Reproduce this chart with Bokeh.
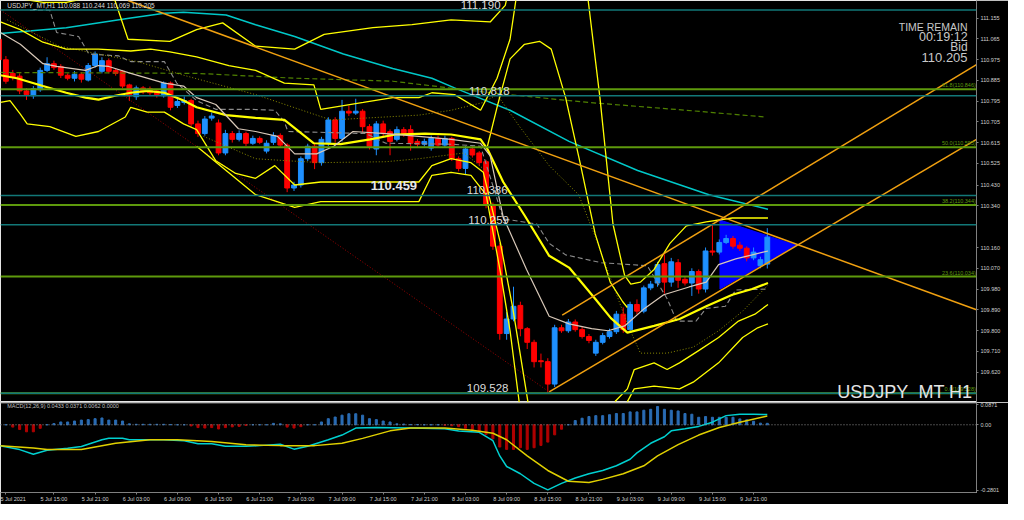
from bokeh.plotting import figure
from bokeh.models import ColumnDataSource, Range1d, FixedTicker, Span, Label
from bokeh.layouts import column
from bokeh.embed import file_html
from bokeh.resources import INLINE

# ---------------- data ----------------
first_bar = -1
opens = [111.063, 110.974, 110.915, 110.903, 110.839, 110.818, 110.844, 110.928, 110.957, 110.945,
         110.907, 110.894, 110.911, 110.886, 110.949, 110.924, 110.970, 110.928, 110.924, 110.865,
         110.814, 110.852, 110.848, 110.839, 110.818, 110.873, 110.776, 110.789, 110.797, 110.696,
         110.654, 110.721, 110.700, 110.570, 110.654, 110.629, 110.654, 110.612, 110.633, 110.578,
         110.616, 110.646, 110.604, 110.418, 110.431, 110.545, 110.599, 110.528, 110.612, 110.713,
         110.633, 110.751, 110.743, 110.751, 110.684, 110.587, 110.696, 110.662, 110.629, 110.671,
         110.671, 110.620, 110.608, 110.591, 110.633, 110.604, 110.633, 110.545, 110.503, 110.587,
         110.570, 110.532, 110.347, 110.166, 109.787, 109.850, 109.909, 109.808, 109.749, 109.669,
         109.665, 109.568, 109.812, 109.799, 109.837, 109.804, 109.774, 109.702, 109.749, 109.774,
         109.795, 109.871, 109.804, 109.913, 109.884, 109.985, 110.006, 110.090, 110.010, 110.094,
         110.022, 110.006, 110.056, 109.980, 110.145, 110.140, 110.182, 110.199, 110.170, 110.157,
         110.115, 110.081, 110.088]
closes = [110.974, 110.881, 110.898, 110.839, 110.823, 110.848, 110.928, 110.957, 110.940, 110.907,
          110.894, 110.911, 110.890, 110.949, 110.999, 110.970, 110.924, 110.915, 110.860, 110.818,
          110.852, 110.835, 110.831, 110.823, 110.873, 110.768, 110.793, 110.797, 110.696, 110.654,
          110.717, 110.730, 110.570, 110.654, 110.629, 110.654, 110.612, 110.633, 110.616, 110.612,
          110.646, 110.604, 110.418, 110.431, 110.545, 110.599, 110.528, 110.629, 110.713, 110.633,
          110.751, 110.743, 110.751, 110.684, 110.599, 110.696, 110.654, 110.620, 110.671, 110.654,
          110.612, 110.608, 110.620, 110.633, 110.604, 110.633, 110.545, 110.503, 110.587, 110.561,
          110.528, 110.347, 110.166, 109.787, 109.850, 109.905, 109.808, 109.749, 109.665, 109.665,
          109.568, 109.812, 109.799, 109.837, 109.804, 109.774, 109.757, 109.749, 109.778, 109.795,
          109.871, 109.804, 109.913, 109.884, 109.985, 110.001, 110.086, 110.010, 110.098, 110.018,
          110.006, 110.056, 109.980, 110.145, 110.140, 110.182, 110.199, 110.166, 110.157, 110.115,
          110.140, 110.107, 110.205]
highs = [111.080, 110.990, 110.930, 110.915, 110.850, 110.860, 110.940, 110.985, 110.970, 110.955,
         110.915, 110.925, 110.920, 110.960, 111.010, 110.985, 110.980, 110.935, 110.930, 110.870,
         110.862, 110.860, 110.858, 110.845, 110.880, 110.880, 110.810, 110.815, 110.805, 110.710,
         110.730, 110.745, 110.715, 110.670, 110.665, 110.668, 110.662, 110.645, 110.642, 110.625,
         110.660, 110.655, 110.612, 110.445, 110.555, 110.610, 110.610, 110.640, 110.725, 110.725,
         110.800, 110.775, 110.805, 110.760, 110.695, 110.708, 110.710, 110.672, 110.685, 110.682,
         110.690, 110.630, 110.632, 110.645, 110.645, 110.645, 110.640, 110.555, 110.600, 110.600,
         110.578, 110.540, 110.355, 110.180, 109.880, 109.990, 109.925, 109.815, 109.760, 109.700,
         109.680, 109.825, 109.825, 109.850, 109.848, 109.815, 109.785, 109.760, 109.790, 109.808,
         109.885, 109.900, 109.925, 109.935, 109.995, 110.015, 110.098, 110.130, 110.115, 110.110,
         110.035, 110.070, 110.065, 110.160, 110.259, 110.195, 110.215, 110.210, 110.185, 110.165,
         110.160, 110.120, 110.244]
lows = [110.965, 110.870, 110.885, 110.825, 110.800, 110.805, 110.835, 110.920, 110.930, 110.895,
        110.885, 110.880, 110.875, 110.880, 110.940, 110.915, 110.915, 110.905, 110.850, 110.795,
        110.800, 110.825, 110.820, 110.810, 110.810, 110.755, 110.765, 110.780, 110.685, 110.640,
        110.645, 110.710, 110.560, 110.560, 110.615, 110.620, 110.600, 110.605, 110.608, 110.568,
        110.605, 110.595, 110.400, 110.405, 110.420, 110.535, 110.500, 110.515, 110.600, 110.615,
        110.620, 110.730, 110.735, 110.660, 110.585, 110.560, 110.640, 110.560, 110.620, 110.640,
        110.580, 110.595, 110.598, 110.580, 110.595, 110.595, 110.535, 110.490, 110.475, 110.550,
        110.515, 110.330, 110.150, 109.760, 109.760, 109.840, 109.775, 109.720, 109.640, 109.640,
        109.528, 109.555, 109.790, 109.790, 109.795, 109.765, 109.745, 109.690, 109.740, 109.765,
        109.785, 109.790, 109.795, 109.870, 109.875, 109.975, 109.990, 109.960, 109.990, 109.985,
        109.995, 109.950, 109.960, 109.965, 110.125, 110.130, 110.175, 110.155, 110.145, 110.100,
        110.105, 110.070, 110.069]

price_ticks = [111.155, 111.065, 110.975, 110.885, 110.795, 110.705, 110.615, 110.525, 110.430,
               110.340, 110.160, 110.070, 109.980, 109.890, 109.800, 109.710, 109.620]
level_prices = [111.190, 110.818, 110.386, 110.259, 109.528]
level_texts = ["111.190", "110.818", "110.386", "110.259", "109.528"]
fib_prices = [110.846, 110.595, 110.344, 110.034, 109.528]
fib_texts = ["61.8(110.846)", "50.0(110.595)", "38.2(110.344)", "23.6(110.034)", "0.0(109.528)"]
bid_price = 110.205

time_ticks = [0, 7, 13, 19, 25, 31, 37, 43, 49, 55, 61, 67, 73, 79, 85, 91, 97, 103, 109]
time_labels = ["5 Jul 2021", "5 Jul 15:00", "5 Jul 21:00", "6 Jul 03:00", "6 Jul 09:00", "6 Jul 15:00",
               "6 Jul 21:00", "7 Jul 03:00", "7 Jul 09:00", "7 Jul 15:00", "7 Jul 21:00", "8 Jul 03:00",
               "8 Jul 09:00", "8 Jul 15:00", "8 Jul 21:00", "9 Jul 03:00", "9 Jul 09:00", "9 Jul 15:00",
               "9 Jul 21:00"]

# indicator lines: (bar position, price)
cyan_x = [-0.8, 8.8, 18.2, 23.1, 25.9, 32.1, 36.4, 42.1, 49.2, 56.4, 62.1, 65.4, 73.5, 82.1, 92.1, 102.5, 111.1]
cyan_y = [111.088, 111.113, 111.155, 111.176, 111.180, 111.168, 111.126, 111.075, 110.999, 110.936,
          110.894, 110.852, 110.755, 110.620, 110.494, 110.389, 110.326]
gdash_x = [-0.8, 27.8, 42.1, 56.4, 70.6, 84.9, 99.2, 110.6]
gdash_y = [110.919, 110.915, 110.894, 110.881, 110.831, 110.789, 110.755, 110.726]
tan_x = [-0.8, 2.1, 5.4, 7.4, 11.6, 13.5, 15.0, 18.2, 23.1, 25.9, 27.8, 30.6, 33.9, 36.4, 39.6, 42.1, 45.3,
         47.8, 50.6, 55.4, 60.2, 64.9, 69.2, 70.6, 72.5, 75.9, 79.2, 82.1, 85.4, 87.8, 90.2, 93.1, 95.9,
         99.6, 102.1, 103.9, 106.4, 108.8, 111.1]
tan_y = [111.092, 111.041, 110.957, 110.945, 110.928, 110.949, 110.945, 110.915, 110.873, 110.860,
         110.810, 110.780, 110.675, 110.663, 110.642, 110.566, 110.566, 110.599, 110.663, 110.654,
         110.642, 110.629, 110.612, 110.557, 110.292, 110.065, 109.862, 109.829, 109.808, 109.799,
         109.820, 109.896, 109.955, 109.989, 110.010, 110.086, 110.111, 110.128, 110.145]
gray_x = [3.5, 6.4, 7.4, 10.6, 12.1, 16.4, 18.2, 23.1, 24.9, 27.8, 30.6, 35.9, 39.2, 40.6, 41.1, 47.8,
          52.5, 55.4, 64.9, 69.2, 72.5, 77.4, 79.2, 81.6, 86.8, 93.5, 96.4, 97.8, 100.6, 102.1, 104.9,
          106.4, 111.1]
gray_y = [111.189, 111.189, 111.092, 111.075, 110.999, 110.991, 110.966, 110.966, 110.873, 110.797,
          110.759, 110.759, 110.755, 110.705, 110.663, 110.658, 110.654, 110.612, 110.608, 110.599,
          110.284, 110.262, 110.178, 110.128, 110.094, 110.081, 109.938, 109.841, 109.841, 109.896,
          109.905, 109.976, 109.980]
olive_x = [0.2, 7.8, 13.5, 19.2, 25.9, 36.4, 47.4, 60.2, 64.9, 69.6, 71.6, 74.9, 79.2, 83.5, 85.9,
           88.2, 90.6, 92.5, 96.4, 100.2, 103.9, 107.4, 111.1]
olive_y = [111.147, 111.033, 110.999, 110.966, 110.907, 110.823, 110.713, 110.734, 110.755, 110.789,
           110.823, 110.684, 110.515, 110.389, 110.208, 110.023, 109.829, 109.702, 109.702, 109.728,
           109.799, 109.884, 109.997]
olive2_x = [28.8, 36.4, 41.1, 45.9, 55.4, 60.2, 66.8, 69.9]
olive2_y = [110.642, 110.545, 110.536, 110.528, 110.532, 110.545, 110.570, 110.494]
ma_x = [-0.8, 1.6, 5.4, 8.8, 11.6, 13.5, 15.9, 18.2, 20.6, 23.1, 25.9, 27.8, 32.1, 36.4, 40.6, 44.9,
        48.8, 53.1, 56.8, 61.1, 64.9, 69.2, 70.2, 72.5, 75.6, 79.2, 82.1, 85.9, 88.2, 90.6, 94.5, 98.2,
        102.1, 105.9, 108.8, 111.1]
ma_y = [110.907, 110.894, 110.860, 110.831, 110.810, 110.801, 110.818, 110.831, 110.839, 110.831,
        110.797, 110.768, 110.734, 110.722, 110.713, 110.612, 110.608, 110.629, 110.650, 110.654,
        110.650, 110.629, 110.587, 110.444, 110.300, 110.124, 110.073, 109.938, 109.854, 109.791,
        109.820, 109.850, 109.905, 109.955, 109.980, 110.006]
upb_x = [-0.8, 2.1, 5.4, 8.8, 13.5, 18.2, 21.1, 23.9, 27.8, 32.5, 36.4, 40.6, 44.9, 45.9, 52.1, 56.4,
         60.2, 62.1, 65.4, 69.2, 71.6, 73.5, 75.6, 79.9, 84.2, 86.6, 88.5, 90.2, 91.1, 92.5, 94.5, 96.8,
         99.2, 102.1, 105.9, 108.8, 111.1]
upb_y = [111.138, 111.105, 111.050, 111.020, 111.020, 111.012, 111.020, 111.008, 110.987, 110.949,
         110.928, 110.873, 110.865, 110.759, 110.789, 110.810, 110.810, 110.831, 110.823, 110.755,
         110.894, 111.063, 111.484, 111.610, 111.400, 110.810, 110.262, 110.039, 110.001, 110.010,
         110.065, 110.178, 110.254, 110.271, 110.288, 110.288, 110.288]
upa_x = [-0.8, 5.4, 8.8, 13.5, 15.9, 17.8, 23.9, 27.8, 31.6, 36.4, 42.1, 46.4, 53.5, 59.2, 64.9,
         70.6, 72.8, 74.2]
upa_y = [111.252, 111.223, 111.223, 111.252, 111.231, 111.063, 111.054, 111.105, 111.134, 111.033,
         111.020, 111.084, 111.113, 111.126, 111.147, 111.138, 111.210, 111.400]
hump_x = [70.2, 71.6, 73.5, 75.6, 77.8, 79.5, 81.6, 83.8, 85.9, 88.1, 89.9, 90.6]
hump_y = [110.599, 110.768, 110.978, 111.041, 111.054, 111.020, 110.810, 110.515, 110.220, 110.010,
          109.926, 109.900]
lowb_x = [-0.8, 0.6, 2.1, 3.1, 6.4, 10.2, 13.5, 17.4, 18.2, 20.6, 23.1, 25.9, 27.8, 30.6, 33.5, 36.4,
          39.2, 42.1, 45.9, 53.1, 60.2, 62.1, 64.9, 67.8, 69.6, 72.1, 73.9, 76.1, 77.1]
lowb_y = [110.789, 110.797, 110.738, 110.696, 110.684, 110.642, 110.663, 110.726, 110.768, 110.747,
          110.747, 110.696, 110.671, 110.536, 110.481, 110.460, 110.515, 110.431, 110.444, 110.444,
          110.444, 110.515, 110.545, 110.528, 110.486, 110.178, 109.896, 109.492, 109.294]
lowa_x = [27.8, 32.1, 36.4, 42.1, 45.9, 60.2, 62.1, 64.9, 67.8, 70.0, 72.1, 73.5, 75.0]
lowa_y = [110.599, 110.494, 110.389, 110.334, 110.359, 110.359, 110.473, 110.486, 110.473, 110.389,
          110.052, 109.799, 109.450]
lowc_x = [88.8, 90.6, 91.6, 94.5, 96.4, 98.2, 101.1, 103.9, 106.8, 109.2, 111.1]
lowc_y = [109.492, 109.547, 109.631, 109.660, 109.631, 109.660, 109.715, 109.770, 109.841, 109.871, 109.913]
lowd_x = [90.6, 91.6, 94.5, 98.2, 100.2, 103.9, 107.4, 109.6, 111.1]
lowd_y = [109.492, 109.547, 109.559, 109.547, 109.576, 109.660, 109.770, 109.812, 109.829]

# trend objects
down_tl_x = [17.8, 141.5]
down_tl_y = [111.231, 109.890]
chan_up_x = [81.1, 141.5]
chan_up_y = [109.867, 110.953]
chan_lo_x = [79.2, 141.5]
chan_lo_y = [109.534, 110.629]
red_tl_x = [-0.8, 79.2]
red_tl_y = [111.190, 109.534]
tri_x = [104.1, 104.1, 115.2]
tri_y = [110.279, 109.980, 110.170]

# MACD panel
macd_hist = [0.0, 0.0, -0.010, -0.020, -0.030, -0.030, -0.015, 0.0, 0.005, 0.012, 0.012, 0.016, 0.020,
             0.022, 0.026, 0.029, 0.020, 0.020, 0.016, 0.004, 0.002, 0.002, 0.002, 0.002, 0.002, 0.001,
             0.0, 0.0, -0.005, -0.012, -0.014, -0.012, -0.018, -0.012, -0.009, -0.007, -0.003, 0.0, 0.0,
             0.0, 0.006, 0.004, -0.010, -0.014, -0.008, 0.0, 0.0, 0.012, 0.026, 0.033, 0.041, 0.047,
             0.047, 0.041, 0.026, 0.022, 0.016, 0.012, 0.004, 0.003, 0.001, 0.001, 0.0, 0.0, 0.0, -0.002,
             -0.004, -0.008, -0.015, -0.020, -0.030, -0.041, -0.060, -0.095, -0.105, -0.105, -0.098,
             -0.105, -0.098, -0.088, -0.074, -0.043, -0.019, 0.0, 0.018, 0.028, 0.035, 0.039, 0.039,
             0.043, 0.048, 0.048, 0.055, 0.055, 0.062, 0.066, 0.078, 0.066, 0.062, 0.059, 0.048, 0.045,
             0.032, 0.035, 0.032, 0.032, 0.032, 0.032, 0.025, 0.021, 0.015, 0.007, 0.0062]
macd_main_x = [-1, 2, 4, 6, 9, 11, 14, 15, 17, 18, 21, 23, 26, 28, 30, 32, 35, 37, 40, 42, 44, 47, 49,
               51, 54, 59, 64, 66, 69, 71, 72, 73, 75, 77, 79, 81, 83, 85, 87, 89, 91, 92, 94, 96, 97,
               99, 101, 103, 105, 107, 109, 111]
macd_main_y = [-0.089, -0.106, -0.126, -0.109, -0.100, -0.093, -0.064, -0.058, -0.058, -0.064, -0.064,
               -0.064, -0.068, -0.081, -0.081, -0.092, -0.092, -0.089, -0.083, -0.104, -0.092, -0.064,
               -0.044, -0.014, -0.012, -0.014, -0.017, -0.027, -0.032, -0.068, -0.133, -0.178, -0.209,
               -0.250, -0.278, -0.250, -0.227, -0.209, -0.195, -0.175, -0.147, -0.120, -0.079, -0.051,
               -0.026, -0.017, -0.007, 0.011, 0.039, 0.045, 0.045, 0.0433]
macd_sig_x = [-1, 4, 6, 11, 16, 21, 25, 30, 35, 40, 45, 49, 52, 56, 59, 64, 68, 71, 73, 76, 79, 82, 85,
              87, 90, 93, 95, 98, 101, 104, 107, 111]
macd_sig_y = [-0.089, -0.099, -0.106, -0.106, -0.079, -0.064, -0.064, -0.071, -0.085, -0.089, -0.089,
              -0.079, -0.058, -0.026, -0.014, -0.014, -0.023, -0.036, -0.064, -0.133, -0.195, -0.241,
              -0.246, -0.233, -0.209, -0.175, -0.133, -0.085, -0.044, -0.012, 0.011, 0.0371]
macd_ticks = [0.0871, 0.0, -0.2801]
macd_tick_labels = ["0.0871", "0.00", "-0.2801"]

# ---------------- styling constants ----------------
X0, X1 = -0.79, 141.5
BULL, BEAR = "#1e90ff", "#ff0000"
TEAL, FIBG, ORANGE = "#127878", "#5e9a0c", "#f0a010"
YEL = "#ffff00"
AX_TXT = "#d0d0d0"

# ---------------- main chart ----------------
p = figure(frame_width=976, frame_height=402, x_range=Range1d(X0, X1), y_range=Range1d(109.488, 111.231),
           output_backend="svg", toolbar_location=None, y_axis_location="right",
           background_fill_color="black", border_fill_color="black",
           min_border_left=0, min_border_right=32, min_border_top=0, min_border_bottom=0)
p.grid.visible = False
p.xaxis.visible = False
ya = p.yaxis[0]
ya.ticker = FixedTicker(ticks=price_ticks)
ya.major_label_overrides = {t: f"{t:.3f}" for t in price_ticks}
ya.major_label_text_font = "Liberation Sans"
ya.major_label_text_font_size = "5.5px"
ya.major_label_text_color = AX_TXT
ya.axis_line_color = "#808080"
ya.major_tick_line_color = "#808080"
ya.major_tick_out = 2
ya.major_tick_in = 0
ya.minor_tick_line_color = None
ya.major_label_standoff = 2

for pr in fib_prices:
    p.add_layout(Span(location=pr, dimension="width", line_color=FIBG, line_width=2))
for pr in level_prices:
    p.add_layout(Span(location=pr, dimension="width", line_color=TEAL, line_width=1.5))

p.patch(tri_x, tri_y, fill_color="#0000ff", line_color="#0000ff")

idx = list(range(first_bar, first_bar + len(opens)))
cols = [BULL if c >= o else BEAR for o, c in zip(opens, closes)]
src = ColumnDataSource(dict(x=idx, o=opens, c=closes, h=highs, l=lows, col=cols))
p.segment(x0="x", y0="h", x1="x", y1="l", color="col", line_width=1, source=src)
p.vbar(x="x", width=0.7, top="o", bottom="c", fill_color="col", line_color="col", source=src)

p.line(cyan_x, cyan_y, line_color="#00c8c8", line_width=1.5)
p.line(gdash_x, gdash_y, line_color="#4f8000", line_width=1.2, line_dash="5 3")
p.line(gray_x, gray_y, line_color="#8c8c8c", line_width=1.1, line_dash="5 3")
p.line(olive_x, olive_y, line_color="#8a8a00", line_width=1, line_dash="1 2")
p.line(olive2_x, olive2_y, line_color="#8a8a00", line_width=1, line_dash="1 2")
p.line(red_tl_x, red_tl_y, line_color="#a00000", line_width=1, line_dash="1 2")
p.line(upa_x, upa_y, line_color=YEL, line_width=1.3)
p.line(upb_x, upb_y, line_color=YEL, line_width=1.3)
p.line(hump_x, hump_y, line_color=YEL, line_width=1.3)
p.line(lowb_x, lowb_y, line_color=YEL, line_width=1.3)
p.line(lowa_x, lowa_y, line_color=YEL, line_width=1.3)
p.line(lowc_x, lowc_y, line_color=YEL, line_width=1.3)
p.line(lowd_x, lowd_y, line_color=YEL, line_width=1.3)
p.line(ma_x, ma_y, line_color=YEL, line_width=2.2)
p.line(tan_x, tan_y, line_color="#d8c8b8", line_width=1.2)

p.line(down_tl_x, down_tl_y, line_color=ORANGE, line_width=1.5)
p.line(chan_up_x, chan_up_y, line_color=ORANGE, line_width=1.5)
p.line(chan_lo_x, chan_lo_y, line_color=ORANGE, line_width=1.5)

# texts on the chart
lvl_text_x = [66.3, 67.5, 67.2, 67.4, 67.2]
for xx, pr, tx in zip(lvl_text_x, level_prices, level_texts):
    p.add_layout(Label(x=xx, y=pr, text=tx, text_color="#dcdcdc", text_font="Liberation Sans",
                       text_font_size="11.5px", text_baseline="bottom", y_offset=1))
p.add_layout(Label(x=53.2, y=110.431, text="110.459", text_color="#e8e8e8", text_font="Liberation Sans",
                   text_font_size="13px", text_font_style="bold", text_baseline="middle"))
for pr, tx in zip(fib_prices, fib_texts):
    p.add_layout(Label(x=X1 - 0.1, y=pr, text=tx, text_color=FIBG, text_font="Liberation Sans",
                       text_font_size="5.5px", text_align="right", text_baseline="bottom", y_offset=1))
p.add_layout(Label(x=0.2, y=111.231, text="USDJPY_MT,H1  110.088 110.244 110.069 110.205",
                   text_color="#dcdcdc", text_font="Liberation Sans", text_font_size="6.5px",
                   text_baseline="top", y_offset=-1))
for tx, pr, fs in [("TIME REMAIN", 111.117, "10.5px"), ("00:19:12", 111.073, "12.5px"),
                   ("Bid", 111.031, "12px"), ("110.205", 110.985, "13px")]:
    p.add_layout(Label(x=140.2, y=pr, text=tx, text_color="#c8c8c8", text_font="Liberation Sans",
                       text_font_size=fs, text_align="right", text_baseline="middle"))
p.add_layout(Label(x=140.9, y=109.534, text="USDJPY_MT H1", text_color="#e4e4e4",
                   text_font="Liberation Sans", text_font_size="18px", text_align="right",
                   text_baseline="middle"))
# axis price boxes
for pr, tx in zip(level_prices, level_texts):
    p.add_layout(Label(x=977, x_units="screen", y=pr, text=tx, text_color="black",
                       background_fill_color="#00ffff", text_font="Liberation Sans",
                       text_font_size="5.5px", text_baseline="middle", padding=1))
p.add_layout(Label(x=977, x_units="screen", y=bid_price, text=f"{bid_price:.3f}", text_color="black",
                   background_fill_color="#ffffff", text_font="Liberation Sans",
                   text_font_size="5.5px", text_baseline="middle", padding=1))

# ---------------- MACD panel ----------------
m = figure(frame_width=976, frame_height=90, x_range=p.x_range, y_range=Range1d(-0.289, 0.095),
           output_backend="svg", toolbar_location=None, y_axis_location="right",
           background_fill_color="black", border_fill_color="black",
           min_border_left=0, min_border_right=32, min_border_top=0, min_border_bottom=12)
m.grid.visible = False
my = m.yaxis[0]
my.ticker = FixedTicker(ticks=macd_ticks)
my.major_label_overrides = dict(zip(macd_ticks, macd_tick_labels))
my.major_label_text_font = "Liberation Sans"
my.major_label_text_font_size = "5.5px"
my.major_label_text_color = AX_TXT
my.axis_line_color = "#808080"
my.major_tick_line_color = "#808080"
my.major_tick_out = 2
my.major_tick_in = 0
my.minor_tick_line_color = None
my.major_label_standoff = 2
mx = m.xaxis[0]
mx.ticker = FixedTicker(ticks=time_ticks)
mx.major_label_overrides = dict(zip(time_ticks, time_labels))
mx.major_label_text_font = "Liberation Sans"
mx.major_label_text_font_size = "5.5px"
mx.major_label_text_color = AX_TXT
mx.axis_line_color = "#808080"
mx.major_tick_line_color = "#808080"
mx.major_tick_out = 2
mx.major_tick_in = 0
mx.minor_tick_line_color = None
mx.major_label_standoff = 1

m.add_layout(Span(location=0.094, dimension="width", line_color="#808080", line_width=1.5))
m.add_layout(Span(location=0.0, dimension="width", line_color="#909090", line_width=1, line_dash="1 2"))
hidx = list(range(first_bar, first_bar + len(macd_hist)))
hcol = ["#2a6cb4" if v >= 0 else "#b00000" for v in macd_hist]
m.vbar(x=hidx, width=0.3, top=macd_hist, bottom=0, fill_color=hcol, line_color=hcol)
m.line(macd_main_x, macd_main_y, line_color="#00d0d0", line_width=1.5)
m.line(macd_sig_x, macd_sig_y, line_color="#e0d000", line_width=1.5)
m.add_layout(Label(x=0.2, y=0.093, text="MACD(12,26,9) 0.0433 0.0371 0.0062 0.0000", text_color="#c0c0c0",
                   text_font="Liberation Sans", text_font_size="5.5px", text_baseline="top"))

layout = column(p, m, spacing=0)
open("out.html", "w").write(file_html(layout, INLINE))
